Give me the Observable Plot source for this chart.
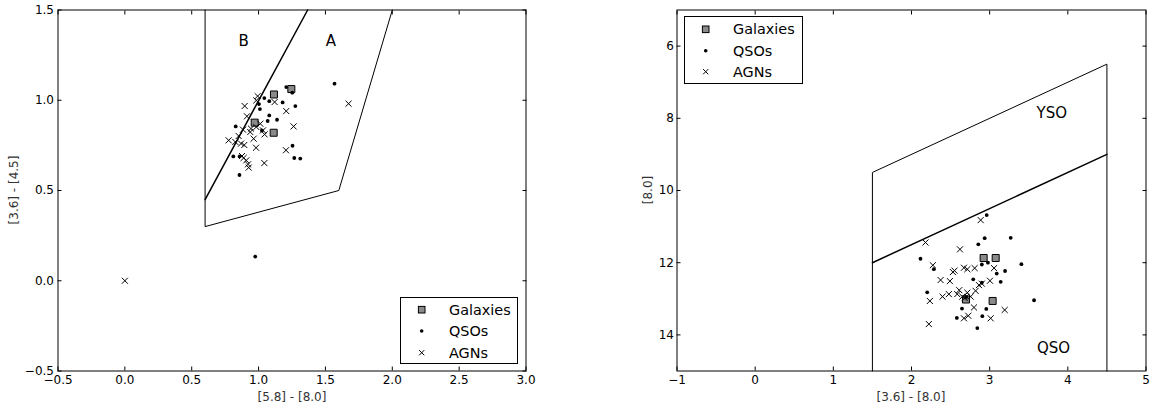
<!DOCTYPE html>
<html><head><meta charset="utf-8">
<script src="https://cdn.jsdelivr.net/npm/d3@7"></script>
<script src="https://cdn.jsdelivr.net/npm/@observablehq/plot@0.6"></script>
<style>
body{margin:0;background:#fff;font-family:"DejaVu Sans",sans-serif;}
#wrap{position:relative;width:1151px;height:406px;overflow:hidden;background:#fff;}
.panel{position:absolute;top:0;}
.lab{position:absolute;font-size:12px;color:#333;white-space:nowrap;line-height:1;}
.leg{position:absolute;}
</style></head><body><div id="wrap"></div><script>
// ---------- Left panel data: [5.8]-[8.0] vs [3.6]-[4.5] ----------
const galL = [[1.115,1.032],[1.245,1.062],[0.971,0.876],[1.113,0.820]];
const qsoL = [[1.568,1.092],[1.207,1.073],[1.252,1.042],[1.043,1.012],[1.080,0.995],[1.180,0.988],
  [1.003,0.979],[1.275,0.968],[1.010,0.951],[1.080,0.916],[1.138,0.892],[1.068,0.885],[0.829,0.855],
  [1.025,0.833],[1.254,0.748],[0.811,0.689],[0.858,0.689],[1.267,0.680],[1.312,0.677],[0.857,0.586],
  [0.975,0.134]];
const agnL = [[0.993,1.023],[0.983,0.999],[1.120,0.990],[0.896,0.968],[1.207,0.940],[0.913,0.911],
  [1.262,0.855],[0.983,0.852],[0.943,0.843],[1.013,0.870],[1.033,0.833],[1.045,0.811],[0.884,0.837],
  [0.938,0.824],[0.851,0.802],[0.963,0.787],[0.776,0.778],[0.826,0.769],[0.869,0.760],[0.893,0.752],
  [0.981,0.737],[1.205,0.723],[0.876,0.691],[0.888,0.680],[0.908,0.667],[0.921,0.645],[0.926,0.627],
  [1.043,0.652],[1.673,0.981],[0.0,0.0]];
const boxL = [[0.6,1.5],[0.6,0.3],[1.6,0.5],[2.0,1.5]];
const divL = [[0.6,0.45],[1.367,1.5]];
const regionL = [{x:0.889,y:1.329,t:"B"},{x:1.541,y:1.329,t:"A"}];
const xTicksL = [-0.5,0,0.5,1,1.5,2,2.5,3];
const yTicksL = [-0.5,0,0.5,1,1.5];

// ---------- Right panel data: [3.6]-[8.0] vs [8.0] ----------
const galR = [[2.923,11.87],[3.077,11.87],[2.697,13.02],[3.038,13.06]];
const qsoR = [[2.962,10.68],[2.936,11.32],[3.269,11.31],[2.855,11.49],[2.115,11.89],[2.978,12.00],
  [2.900,12.05],[3.406,12.04],[2.286,12.18],[3.197,12.23],[3.090,12.30],[2.790,12.46],[3.141,12.53],
  [2.900,12.55],[2.201,12.82],[3.568,13.04],[2.646,13.27],[2.957,13.28],[2.580,13.53],[2.906,13.48],
  [2.842,13.81],[2.700,12.95]];
const agnR = [[2.885,10.82],[2.179,11.44],[2.620,11.63],[2.273,12.07],[2.530,12.26],[2.550,12.22],
  [2.671,12.14],[2.714,12.18],[2.808,12.15],[3.056,12.15],[2.900,12.58],[3.004,12.50],[2.372,12.48],
  [2.491,12.51],[2.235,13.06],[2.397,12.94],[2.478,12.87],[2.611,12.76],[2.585,12.87],[2.650,12.94],
  [2.714,12.83],[2.756,12.94],[2.820,12.78],[2.863,12.62],[2.799,13.24],[3.192,13.31],[2.671,13.54],
  [2.727,13.47],[3.013,13.54],[2.222,13.70],[2.680,12.98]];
const boxR = [[1.5,15],[1.5,9.5],[4.5,6.5],[4.5,15]];
const divR = [[1.5,12],[4.5,9]];
const regionR = [{x:3.795,y:7.87,t:"YSO"},{x:3.818,y:14.37,t:"QSO"}];
const xTicksR = [-1,0,1,2,3,4,5];
const yTicksR = [6,8,10,12,14];

const legendNames = ["Galaxies","QSOs","AGNs"];

const fmt1 = d3.format(".1f");
const fmt0 = d3.format("d");
const px = d => d[0], py = d => d[1];
const style = {fontFamily:"DejaVu Sans", fontSize:"12px", background:"transparent", overflow:"visible", color:"black"};

function panelMarks(gal, qso, agn, box, div, regions, xt, yt, fmt, ypad) {
  return [
    Plot.line(box, {x:px, y:py, stroke:"black", strokeWidth:1}),
    Plot.line(div, {x:px, y:py, stroke:"black", strokeWidth:1.5}),
    Plot.text(regions, {x:"x", y:"y", text:"t", fontSize:15, fill:"black"}),
    Plot.dot(gal, {x:px, y:py, symbol:"square", r:3.95, fill:"#8a8a8a", stroke:"black", strokeWidth:1}),
    Plot.dot(qso, {x:px, y:py, r:1.9, fill:"black", stroke:null}),
    Plot.dot(agn, {x:px, y:py, symbol:"times", r:2.85, stroke:"black", strokeWidth:1}),
    Plot.axisX(xt, {anchor:"bottom", tickSize:-4, tickPadding:8.5, tickFormat:fmt, label:null, fontSize:12}),
    Plot.axisX(xt, {anchor:"top", tickSize:-4, tickFormat:() => "", label:null}),
    Plot.axisY(yt, {anchor:"left", tickSize:-4, tickPadding:ypad, tickFormat: fmt, label:null, fontSize:12}),
    Plot.axisY(yt, {anchor:"right", tickSize:-4, tickFormat:() => "", label:null}),
    Plot.frame({stroke:"black", strokeWidth:1})
  ];
}

const left = Plot.plot({
  width:575, height:406, marginLeft:57.5, marginRight:49.5, marginTop:9.5, marginBottom:35.5,
  x:{domain:[-0.5,3]}, y:{domain:[-0.5,1.5]}, style,
  marks: panelMarks(galL, qsoL, agnL, boxL, divL, regionL, xTicksL, yTicksL, fmt1, 8)
});
const right = Plot.plot({
  width:576, height:406, marginLeft:101.5, marginRight:5.5, marginTop:9.5, marginBottom:35.5,
  x:{domain:[-1,5]}, y:{domain:[5,15], reverse:true}, style,
  marks: panelMarks(galR, qsoR, agnR, boxR, divR, regionR, xTicksR, yTicksR, fmt0, 7)
});

const wrap = document.getElementById("wrap");
left.classList.add("panel"); left.style.left = "0px";
right.classList.add("panel"); right.style.left = "575px";
wrap.appendChild(left); wrap.appendChild(right);

function label(text, x, y, rotate) {
  const d = document.createElement("div");
  d.className = "lab"; d.textContent = text;
  d.style.left = x + "px"; d.style.top = y + "px";
  d.style.transform = "translate(-50%,-50%)" + (rotate ? " rotate(-90deg)" : "");
  wrap.appendChild(d);
}
label("[5.8] - [8.0]", 292, 397, false);
label("[3.6] - [4.5]", 14, 190, true);
label("[3.6] - [8.0]", 911, 397, false);
label("[8.0]", 648, 190, true);

function legend(x0, y0, w, h, rows) {
  const svg = d3.create("svg").attr("class","leg").attr("width", w + 2).attr("height", h + 2)
    .style("left", (x0 - 1) + "px").style("top", (y0 - 1) + "px").style("position","absolute");
  svg.append("rect").attr("x",1.5).attr("y",1.5).attr("width",w-1).attr("height",h-1)
    .attr("fill","white").attr("stroke","black");
  const mx = 22.7, tx = 50;
  const g0 = svg.append("g").attr("transform", `translate(${mx},${rows[0]})`);
  g0.append("rect").attr("x",-3.3).attr("y",-3.3).attr("width",6.6).attr("height",6.6)
    .attr("fill","#8a8a8a").attr("stroke","black");
  svg.append("circle").attr("cx",mx).attr("cy",rows[1]).attr("r",1.8).attr("fill","black");
  svg.append("path").attr("d",`M${mx-2.6},${rows[2]-2.6}L${mx+2.6},${rows[2]+2.6}M${mx-2.6},${rows[2]+2.6}L${mx+2.6},${rows[2]-2.6}`)
    .attr("stroke","black").attr("fill","none");
  legendNames.forEach((n,i) => {
    svg.append("text").attr("x",tx).attr("y",rows[i]).attr("dy","0.36em")
      .attr("font-family","DejaVu Sans").attr("font-size",14.4).attr("fill","black").text(n);
  });
  wrap.appendChild(svg.node());
}
legend(400, 297, 118, 67, [13.7, 35, 56.7]);
legend(684, 16, 119, 68, [14.3, 35.7, 56.7]);
</script></body></html>
